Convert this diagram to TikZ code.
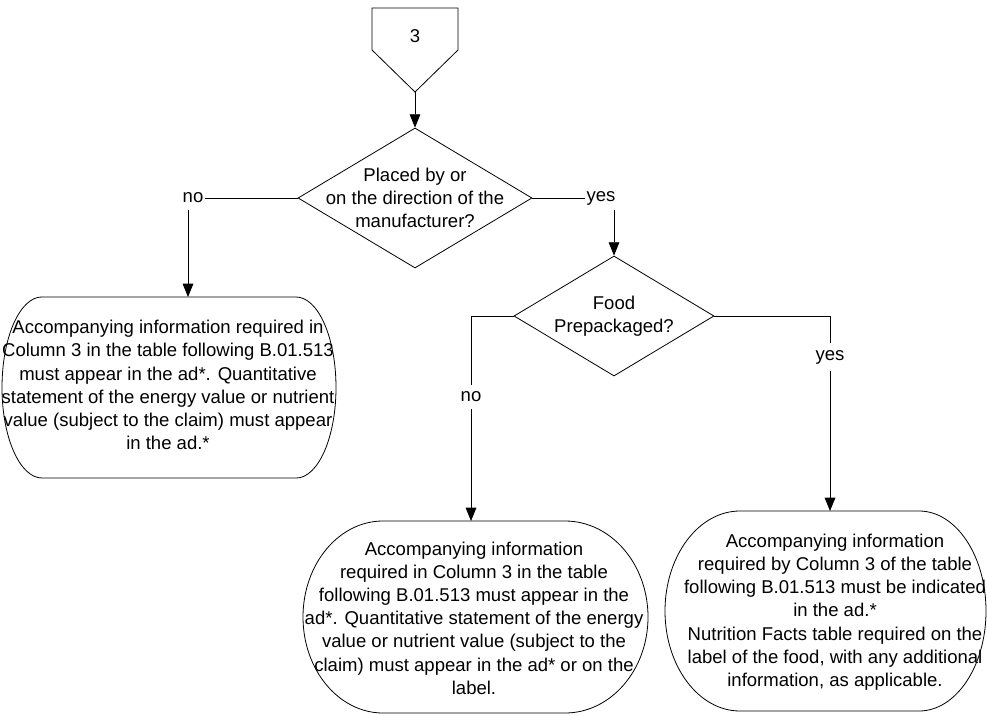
\documentclass[tikz,border=0pt]{standalone}
\usepackage{fontspec}
\setmainfont{Liberation Sans}
\usepackage{tikz}
\usetikzlibrary{shapes.geometric}
\usetikzlibrary{arrows.meta}

\begin{document}
\begin{tikzpicture}[x=0.75pt,y=0.75pt,line width=0.6pt,
        txt/.style={align=center,font=\fontsize{13.9pt}{17.4pt}\selectfont},
        lbl/.style={txt,inner xsep=1pt,inner ysep=5pt},
        decision/.style={shape=diamond,draw,inner sep=0pt},
        arr/.style={-{Triangle[length=10pt,width=8pt]}}]
    \useasboundingbox (0,0) rectangle (987,715);

    % off-page connector
    \draw (372,707) -- (458,707) -- (458,665) -- (415,623) -- (372,665) -- cycle;
    \coordinate (conpt) at (415,623);
    \node[txt] (con) at (415,679) {3};

    % first question
    \node[decision,minimum width=175.5pt,minimum height=105pt] (placed) at (415,517) {};
    \node[txt] (placedtxt) at (placed) {Placed by or\\on the direction of the\\manufacturer?};
    \draw[arr] (conpt) -- (placed.north);

    \node[lbl] (no1) at (193,517) {no};
    \node[lbl] (yes1) at (601,517) {yes};
    \draw (placed.west) -- (no1.east);
    \draw (placed.east) -- (yes1.west);
    \coordinate (no1b) at (188,505);
    \coordinate (yes1b) at (614,505);

    % second question
    \node[decision,minimum width=150pt,minimum height=90pt] (food) at (614,399) {};
    \node[txt] (foodtxt) at (food) {Food\\Prepackaged?};
    \draw[arr] (yes1b) -- (food.north);

    \node[lbl] (no2) at (471,318) {no};
    \node[lbl] (yes2) at (830,358) {yes};
    \draw (food.west) -| (no2.north);
    \draw (food.east) -| (yes2.north);

    % end boxes
    \coordinate (ltop) at (188,418);
    \coordinate (mtop) at (471,194);
    \coordinate (rtop) at (830,204);
    \draw (42,418) -- (296,418) arc[start angle=90,end angle=-90,x radius=30pt,y radius=67.9pt]
        -- (42,237) arc[start angle=270,end angle=90,x radius=30pt,y radius=67.9pt] -- cycle;
    \draw (383,194) -- (565,194) arc[start angle=90,end angle=-90,x radius=62.25pt,y radius=72pt]
        -- (383,2) arc[start angle=270,end angle=90,x radius=60pt,y radius=72pt] -- cycle;
    \draw (740,204) -- (919,204) arc[start angle=90,end angle=-90,x radius=50.25pt,y radius=75pt]
        -- (740,4) arc[start angle=270,end angle=90,x radius=56.25pt,y radius=75pt] -- cycle;

    \draw[arr] (no1b) -- (ltop);
    \draw[arr] (no2.south) -- (mtop);
    \draw[arr] (yes2.south) -- (rtop);

    \node[txt] (ltxt) at (168,330) {Accompanying information required in\\Column 3 in the table following B.01.513\\must appear in the ad*. Quantitative\\statement of the energy value or nutrient\\value (subject to the claim) must appear\\in the ad.*};
    \node[txt] (mtxt) at (474,97) {Accompanying information\\required in Column 3 in the table\\following B.01.513 must appear in the\\ad*. Quantitative statement of the energy\\value or nutrient value (subject to the\\claim) must appear in the ad* or on the\\label.};
    \node[txt] (rtxt) at (835,103) {Accompanying information\\required by Column 3 of the table\\following B.01.513 must be indicated\\in the ad.*\\Nutrition Facts table required on the\\label of the food, with any additional\\information, as applicable.};
\end{tikzpicture}
\end{document}
